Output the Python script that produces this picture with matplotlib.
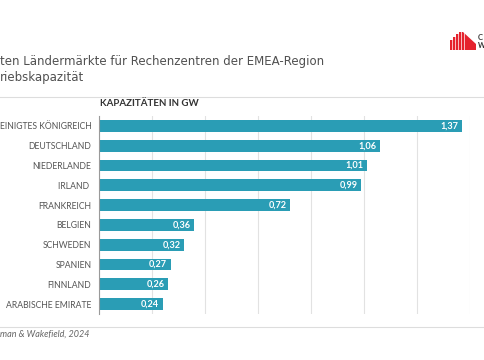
import matplotlib
matplotlib.use("Agg")
import matplotlib.pyplot as plt
from matplotlib.patches import Polygon

categories = ["EINIGTES KÖNIGREICH", "DEUTSCHLAND", "NIEDERLANDE", "IRLAND ",
              "FRANKREICH", "BELGIEN", "SCHWEDEN", "SPANIEN", "FINNLAND",
              "ARABISCHE EMIRATE"]
values = [1.37, 1.06, 1.01, 0.99, 0.72, 0.36, 0.32, 0.27, 0.26, 0.24]
x_ticks = [0, 0.2, 0.4, 0.6, 0.8, 1.0, 1.2, 1.4]

title_l1 = "ten Ländermärkte für Rechenzentren der EMEA-Region"
title_l2 = "riebskapazität"
chart_title = "KAPAZITÄTEN IN GW"
source = "man & Wakefield, 2024"

plt.rcParams['font.family'] = ['Lato', 'DejaVu Sans']

W, H = 485, 360
fig = plt.figure(figsize=(W / 100, H / 100), dpi=100)

def fx(px):
    return px / W

def fy(py):
    return 1 - py / H

BAR = "#2a9db5"
ax = fig.add_axes([fx(99), fy(314), fx(470) - fx(99), (314 - 116) / H])
y = list(range(len(categories)))
ax.barh(y, values, height=0.6, color=BAR, zorder=3)
ax.set_ylim(len(categories) - 0.5, -0.5)
ax.set_xlim(0, 1.4)
ax.set_xticks(x_ticks)
ax.set_xticklabels([])
ax.tick_params(axis='x', length=0)
ax.grid(axis='x', color="#e2e2e2", linewidth=0.8, zorder=0)
ax.set_yticks(y)
ax.set_yticklabels(categories, fontsize=6.2, color="#555555")
ax.tick_params(axis='y', length=0, pad=5.5)
for s in ["top", "right", "bottom"]:
    ax.spines[s].set_visible(False)
ax.spines["left"].set_color("#9a9a9a")
ax.spines["left"].set_linewidth(0.8)
ax.spines["left"].set_zorder(4)

for yi, v in zip(y, values):
    ax.annotate(f"{v:.2f}".replace(".", ","), xy=(v, yi), xytext=(-2.5, 0),
                textcoords="offset points", ha="right", va="center",
                color="white", fontsize=6.6, fontweight="bold", zorder=5)

# separators
for py in (97, 327):
    fig.add_artist(plt.Line2D([0, 1], [fy(py), fy(py)], color="#dddddd", linewidth=0.8))

fig.text(fx(0), fy(61), title_l1, fontsize=8.5, color="#505050", ha="left", va="center",
         family=["DejaVu Sans"])
fig.text(fx(0), fy(77), title_l2, fontsize=8.5, color="#505050", ha="left", va="center",
         family=["DejaVu Sans"])
fig.text(fx(100), fy(104), chart_title, fontsize=7, fontweight="bold", color="#333333",
         ha="left", va="center")
fig.text(fx(0), fy(334), source, fontsize=6.5, style="italic", color="#666666",
         ha="left", va="center")

# logo
pts = [(450, 50), (450, 40), (453, 40), (453, 37), (456, 37), (456, 34), (459, 34),
       (459, 32), (463, 32), (476, 44), (476, 50)]
fig.add_artist(Polygon([(fx(a), fy(b)) for a, b in pts], closed=True,
                       transform=fig.transFigure, color="#e5232e", lw=0))
for lx in (451.6, 454.6, 457.6, 460.6, 463.6):
    fig.add_artist(plt.Line2D([fx(lx), fx(lx)], [fy(50), fy(31)], color="white", linewidth=0.5))
fig.text(fx(478), fy(38), "C", fontsize=5.5, fontweight="bold", color="#333333", va="center")
fig.text(fx(477.5), fy(45), "W", fontsize=5.2, fontweight="bold", color="#333333", va="center")

fig.savefig("out.png", dpi=100)
